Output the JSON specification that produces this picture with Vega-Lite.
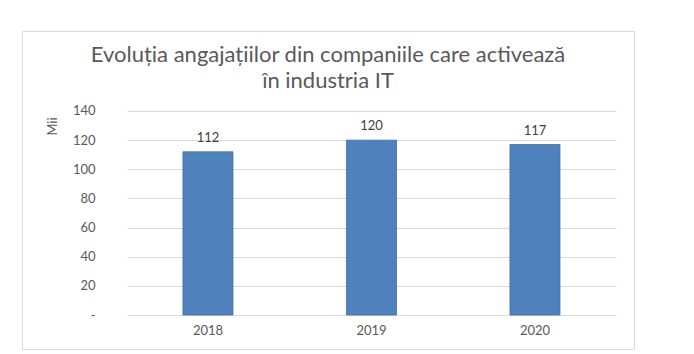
{
  "$schema": "https://vega.github.io/schema/vega-lite/v6.json",
  "autosize": "none",
  "padding": {"left": 22, "top": 31, "right": 60, "bottom": 5},
  "width": 612,
  "height": 318,
  "background": "white",
  "title": {
    "text": ["Evoluția angajațiilor din companiile care activează", "în industria IT"],
    "font": "Lato",
    "fontSize": 22,
    "fontWeight": "normal",
    "color": "#595959",
    "lineHeight": 26,
    "anchor": "middle",
    "frame": "group",
    "baseline": "alphabetic",
    "offset": -79
  },
  "data": {
    "values": [
      {"an": "2018", "valoare": 112},
      {"an": "2019", "valoare": 120},
      {"an": "2020", "valoare": 117}
    ]
  },
  "encoding": {
    "x": {
      "field": "an",
      "type": "nominal",
      "sort": null,
      "scale": {"paddingInner": 0.694, "paddingOuter": 0.7185, "align": 0.685},
      "axis": {
        "title": null,
        "orient": "bottom",
        "offset": -34,
        "domain": false,
        "ticks": false,
        "labelPadding": 9,
        "labelAngle": 0,
        "labelFont": "Lato",
        "labelFontSize": 13,
        "labelColor": "#595959"
      }
    },
    "y": {
      "field": "valoare",
      "type": "quantitative",
      "scale": {"domain": [-23.33, 194.9], "nice": false, "zero": false},
      "axis": {
        "title": "Mii",
        "orient": "left",
        "offset": -105,
        "values": [0, 20, 40, 60, 80, 100, 120, 140],
        "labelExpr": "datum.value == 0 ? '-' : datum.label",
        "domain": false,
        "grid": false,
        "ticks": true,
        "tickSize": -489,
        "tickColor": "#d9d9d9",
        "tickWidth": 1,
        "labelPadding": 521,
        "labelFont": "Lato",
        "labelFontSize": 13,
        "labelColor": "#595959",
        "titleFont": "Lato",
        "titleFontSize": 13,
        "titleFontWeight": "normal",
        "titleColor": "#595959",
        "titleX": -75,
        "titleY": 95,
        "titleAngle": -90,
        "titleAlign": "center",
        "titleBaseline": "middle"
      }
    }
  },
  "layer": [
    {
      "mark": {"type": "bar", "color": "#4F81BD", "stroke": "#41719C", "strokeWidth": 0.8}
    },
    {
      "mark": {"type": "text", "baseline": "alphabetic", "dy": -10, "font": "Lato", "fontSize": 13, "color": "#404040"},
      "encoding": {"text": {"field": "valoare", "type": "quantitative"}}
    }
  ],
  "config": {
    "view": {"stroke": "#d9d9d9", "strokeWidth": 1}
  }
}
